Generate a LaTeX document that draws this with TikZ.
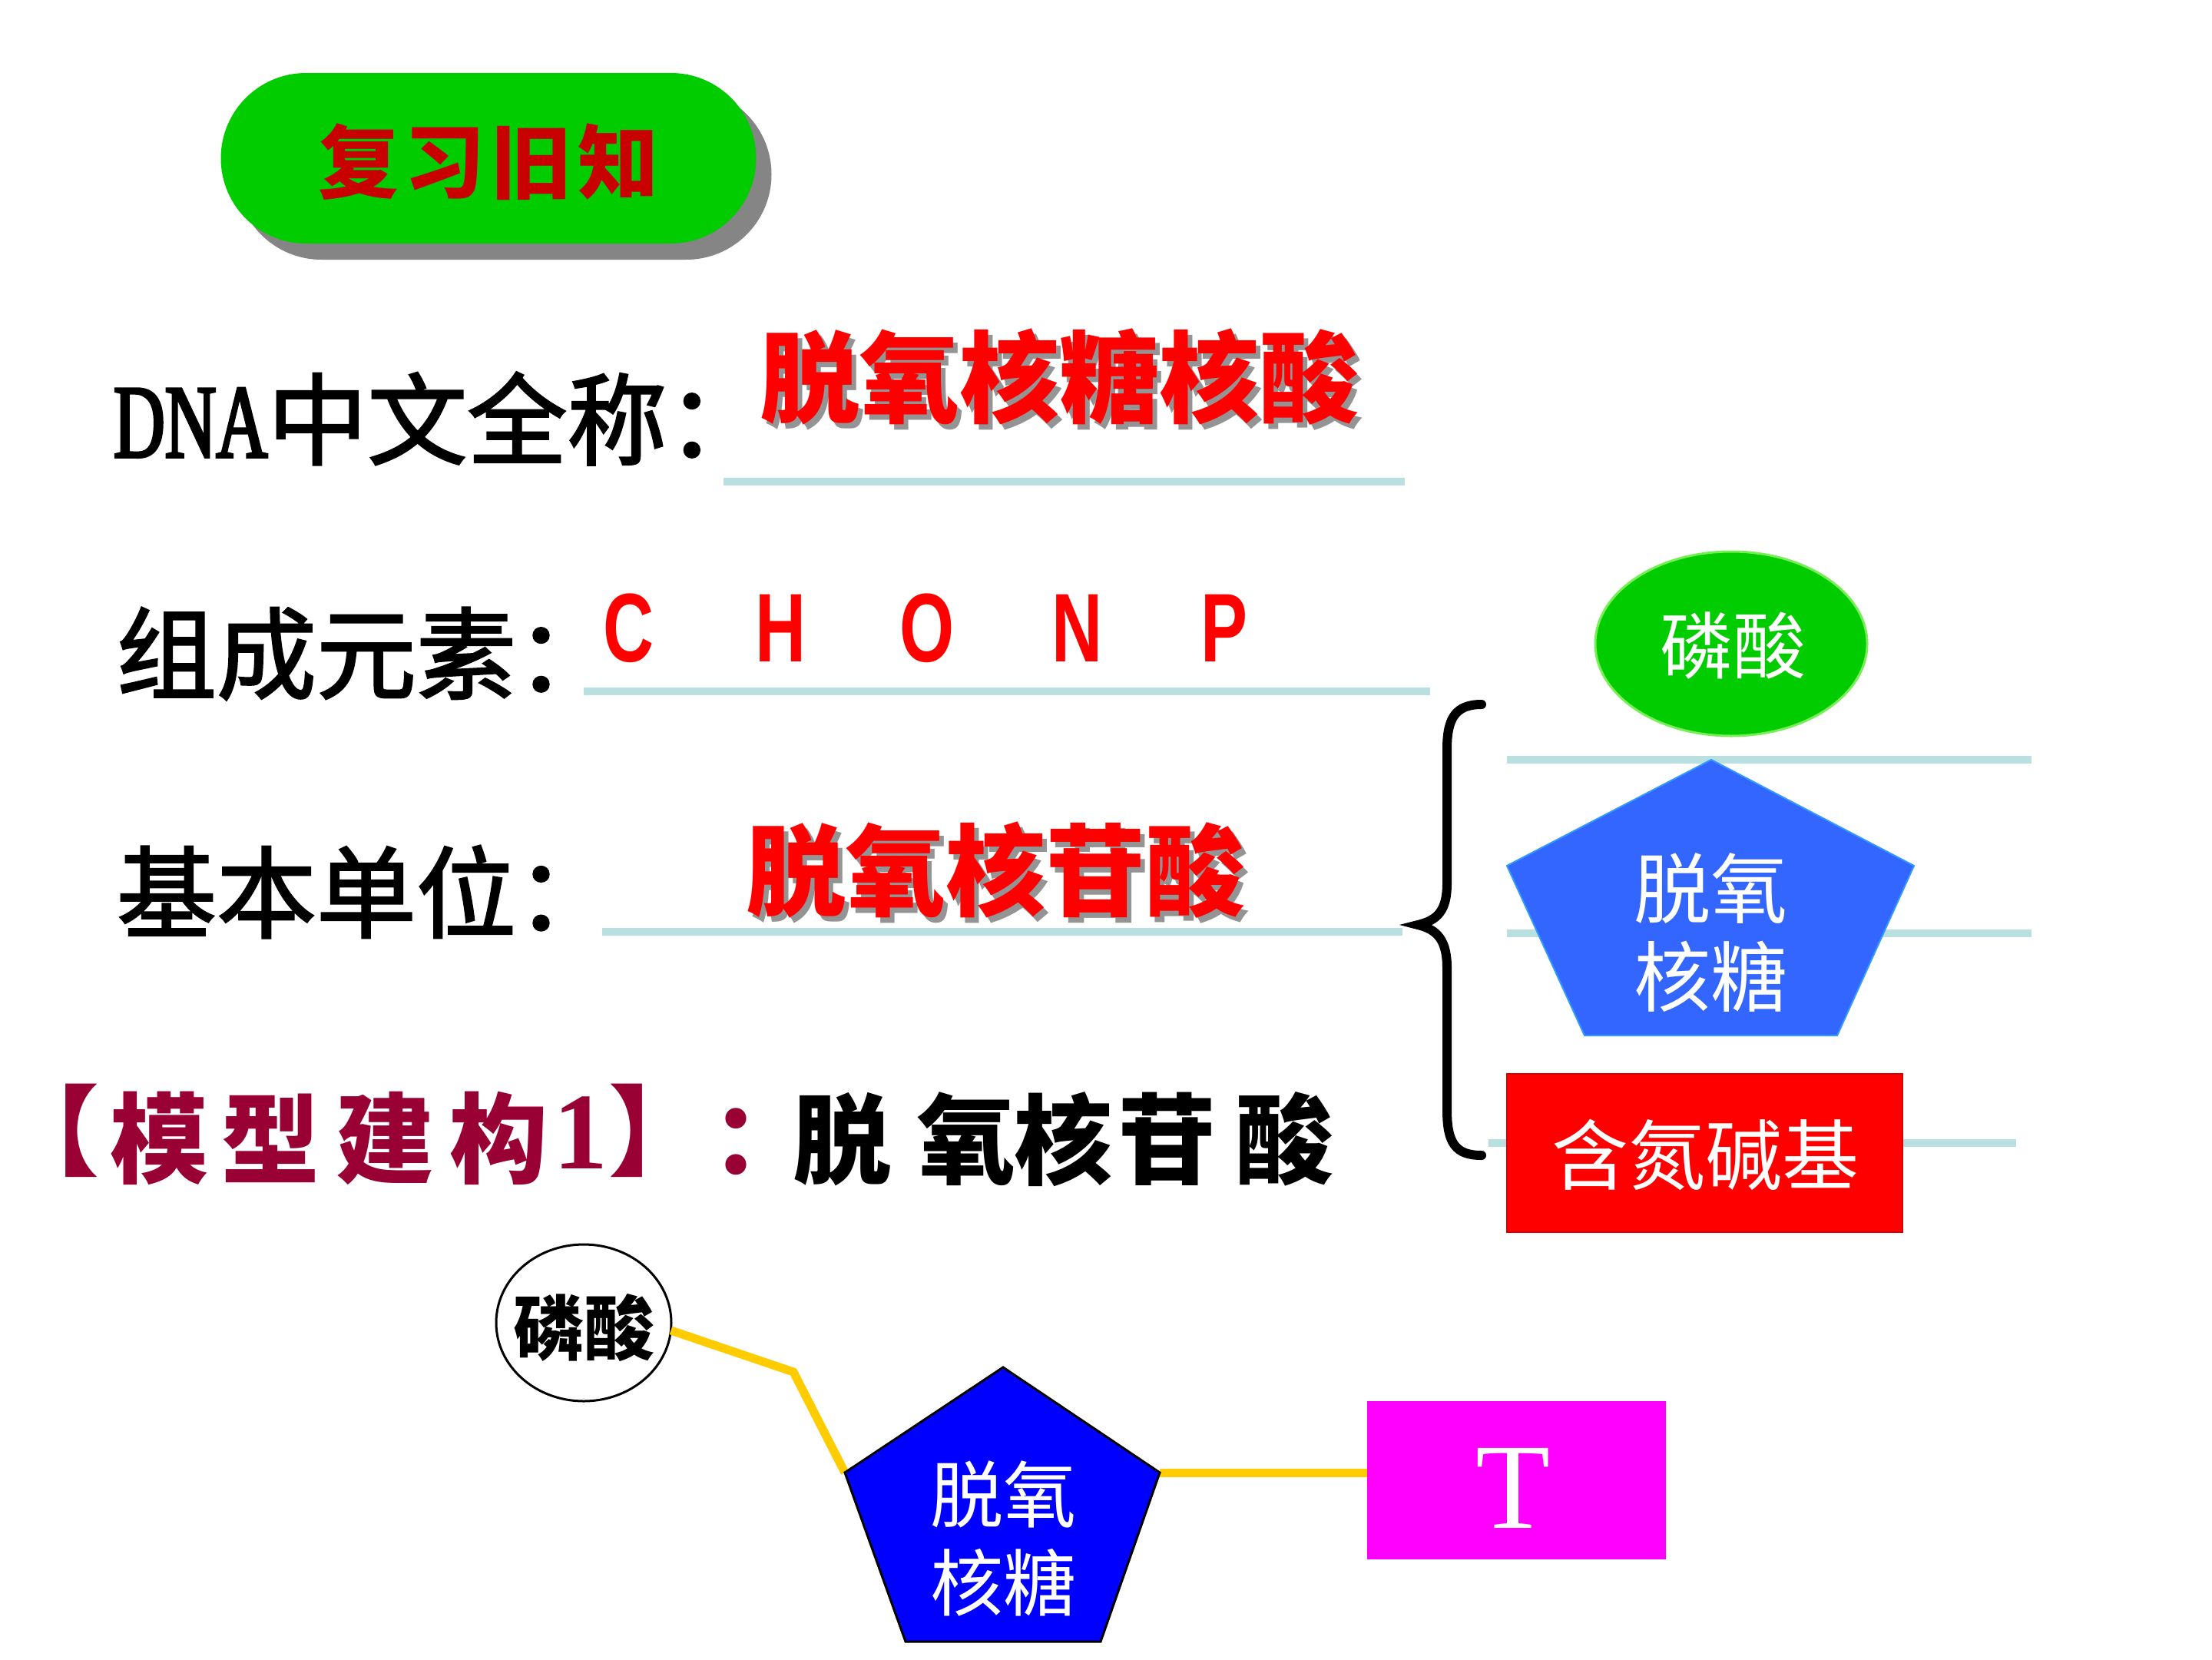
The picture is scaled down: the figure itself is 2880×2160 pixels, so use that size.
\documentclass[tikz,border=0pt]{standalone}
\usepackage{fontspec}
\usetikzlibrary{shapes.geometric,shapes.misc,shadows}
\setmainfont{Liberation Serif}
\newfontfamily\cjk{Noto Sans CJK SC}
\newfontfamily\cjkm[FakeBold=2]{Noto Sans CJK SC}
\newfontfamily\dnafont[FakeStretch=0.68,FakeBold=2.5]{Liberation Serif}
\newfontfamily\elemfont[FakeStretch=0.72]{Liberation Sans}
\newcommand\setsz[1]{\fontsize{#1pt}{#1pt}\selectfont}
\newcommand\shadowed[1]{\rlap{\smash{\hspace{6pt}\raisebox{-7pt}{\color{black!42}#1}}}#1}
\newcommand\ncolon{\makebox[0.45em][l]{：}}
\definecolor{pillgreen}{HTML}{00CC00}
\definecolor{pillshadow}{HTML}{858585}
\definecolor{pilltext}{HTML}{C80000}
\definecolor{ulcol}{HTML}{B9DFE1}
\definecolor{ellgreen}{HTML}{00CC00}
\definecolor{ellborder}{HTML}{77EE55}
\definecolor{sugarblue}{HTML}{3366FF}
\definecolor{sugarborder}{HTML}{3399FF}
\definecolor{basered}{HTML}{FF0000}
\definecolor{crimson}{HTML}{990033}
\definecolor{bondyellow}{HTML}{FFCC00}
\definecolor{deepblue}{HTML}{0000FF}
\definecolor{tmagenta}{HTML}{FF00FF}
\begin{document}
\begin{tikzpicture}[x=1pt,y=-1pt,
  every node/.style={inner sep=0pt, outer sep=0pt},
  ul/.style={line width=10pt, draw=ulcol},
  blk/.style={font=\cjkm\setsz{130}, text=black},
  redbig/.style={font=\cjk\bfseries\setsz{130}, text=basered},
  elem/.style={font=\elemfont\bfseries\setsz{127}, text=basered},
  whitecjk/.style={font=\cjk\setsz{100}, text=white},
  crim/.style={font=\cjk\bfseries\setsz{128}, text=crimson},
  callig/.style={font=\cjk\bfseries\setsz{128}, text=black},
  bond/.style={draw=bondyellow, line width=11pt}
]
\fill[white] (0,0) rectangle (2880,2160);
\useasboundingbox (0,0) rectangle (2880,2160);

% review pill
\node[rounded rectangle, minimum width=697pt, minimum height=222pt, fill=pillgreen,
  drop shadow={shadow xshift=20pt, shadow yshift=-21pt, fill=pillshadow, opacity=1}] (review) at (636,206) {};
\node[font=\cjk\bfseries\setsz{105}, text=pilltext] (reviewt) at (636,211) {复\hspace{8pt}习\hspace{8pt}旧\hspace{8pt}知};

% line 1
\node[blk, anchor=west] (dna) at (148,545) {{\dnafont\setsz{136}DNA}中文全称\ncolon};
\node[redbig] (fullname) at (1379,491) {\shadowed{脱氧核糖核酸}};
\draw[ul] (942,627) -- (1829,627);

% line 2
\node[blk, anchor=west] (elemlabel) at (152,851) {组成元素\ncolon};
\foreach \ch/\xx [count=\i] in {C/819,H/1017,O/1207,N/1402,P/1594}
  \node[elem] (el\i) at (\xx,818) {\ch};
\draw[ul] (760,900) -- (1862,900);

% line 3
\node[blk, anchor=west] (unitlabel) at (152,1161) {基本单位\ncolon};
\node[redbig] (unit) at (1296,1133) {\shadowed{脱氧核苷酸}};
\draw[ul] (784,1213) -- (1826,1213);

% right lines
\draw[ul] (1962,989) -- (2645,989);
\draw[ul] (1962,1215) -- (2645,1215);
\draw[ul] (1938,1488) -- (2625,1488);

% brace
\draw[line width=12pt, line cap=round] (1929,917) .. controls (1895,917) and (1884,935) .. (1884,975)
  -- (1884,1150) .. controls (1884,1185) and (1872,1198) .. (1846,1204)
  .. controls (1872,1210) and (1884,1225) .. (1884,1260)
  -- (1884,1445) .. controls (1884,1488) and (1895,1504) .. (1929,1504);

% phosphate (green)
\node[ellipse, minimum width=354pt, minimum height=240pt, fill=ellgreen, draw=ellborder, line width=3pt] (phos1) at (2254,838) {};
\node[font=\cjk\setsz{95}, text=white] (phos1t) at (2256,841) {磷酸};

% sugar pentagon (top)
\coordinate (s1a) at (2228,989);
\coordinate (s1b) at (2492,1127);
\coordinate (s1c) at (2392,1348);
\coordinate (s1d) at (2063,1348);
\coordinate (s1e) at (1962,1127);
\filldraw[fill=sugarblue, draw=sugarborder, line width=2pt] (s1a) -- (s1b) -- (s1c) -- (s1d) -- (s1e) -- cycle;
\node[align=center, text=white, font={\cjk\fontsize{100pt}{115pt}\selectfont}] (sugar1) at (2227,1214) {脱氧\\核糖};

% base rectangle
\node[minimum width=515pt, minimum height=206pt, fill=basered, draw=red!85!black, line width=2pt] (base) at (2219.5,1501) {};
\node[whitecjk] (baset) at (2220,1503) {含氮碱基};

% model line
\node[crim] (lb) at (97,1472) {\makebox[64pt][r]{【}};
\foreach \ch/\xx [count=\i] in {模/207,型/352,建/501,构/649}
  \node[crim] (m\i) at (\xx,1482) {\ch};
\node[font=\bfseries\setsz{142}, text=crimson] (mone) at (756,1475) {1};
\node[crim] (rb) at (824,1472) {\makebox[64pt][l]{】}};
\node[crim] (colon) at (952,1486) {\makebox[51pt][l]{：}};
\foreach \ch/\xx [count=\i] in {脱/1096,氧/1258,核/1384,苷/1519,酸/1672}
  \node[callig] (n\i) at (\xx,1483) {\ch};

% bottom model
\node[ellipse, minimum width=228pt, minimum height=204pt, fill=white, draw=black, line width=3pt] (phos2) at (760,1722) {};
\node[font=\cjk\bfseries\setsz{92}, text=black] (phos2t) at (760,1728) {磷酸};
\coordinate (bend) at (1033,1786);
\coordinate (s2a) at (1306,1780);
\coordinate (s2b) at (1510,1917);
\coordinate (s2c) at (1433,2137);
\coordinate (s2d) at (1179,2137);
\coordinate (s2e) at (1100,1917);
\node[minimum width=389pt, minimum height=206pt, fill=tmagenta] (tbox) at (1974.5,1927) {};
\node[font=\setsz{159}, text=white] (tlabel) at (1970,1937) {T};
\draw[bond] (phos2.-5) -- (bend) -- (s2e);
\draw[bond] (s2b) -- (s2b -| tbox.west);
\filldraw[fill=deepblue, draw=black, line width=3pt] (s2a) -- (s2b) -- (s2c) -- (s2d) -- (s2e) -- cycle;
\node[align=center, text=white, font={\cjk\fontsize{95pt}{115pt}\selectfont}] (sugar2) at (1306,2003) {脱氧\\核糖};
\end{tikzpicture}
\end{document}
